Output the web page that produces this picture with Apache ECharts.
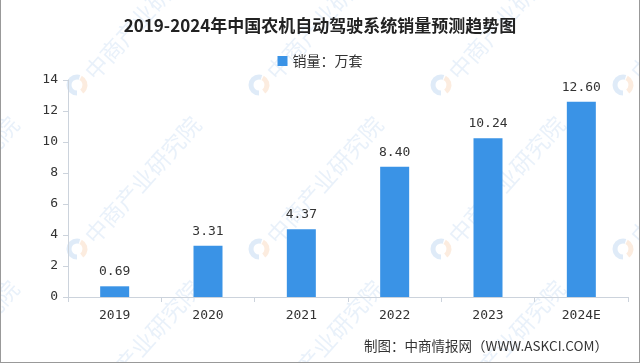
<!DOCTYPE html>
<html><head><meta charset="utf-8">
<script src="https://cdn.jsdelivr.net/npm/echarts@6/dist/echarts.min.js"></script>
<style>html,body{margin:0;padding:0;background:#fff}#c{width:640px;height:363px;box-sizing:border-box;border-left:1px solid #999;border-bottom:1px solid #999;border-right:1px solid #999}</style>
</head><body><div id="c"></div>
<script>
const categories = ['2019','2020','2021','2022','2023','2024E'];
const sales = [0.69, 3.31, 4.37, 8.40, 10.24, 12.60];
const yTicks = [0, 2, 4, 6, 8, 10, 12, 14];
const seriesName = '销量：万套';
const titleText = '2019-2024年中国农机自动驾驶系统销量预测趋势图';
const sourceText = '制图：中商情报网（WWW.ASKCI.COM）';
const watermarkText = '中商产业研究院';

const marks = [];
for (let i = -1; i <= 3; i++) {
  for (let j = 0; j <= 2; j++) {
    const x = 88 + 182 * i, y = 76 + 164 * j;
    marks.push({type: 'text', x: x, y: y, rotation: 0.84, z: -10, silent: true,
      style: {text: watermarkText, fontSize: 23, fill: 'rgba(120,170,225,0.16)',
        fontFamily: 'Noto Sans CJK SC', textVerticalAlign: 'middle', textAlign: 'left'}});
    marks.push({type: 'arc', shape: {cx: x - 12, cy: y + 9, r: 8, startAngle: Math.PI * 0.5, endAngle: Math.PI * 1.6}, z: -10, silent: true,
      style: {fill: 'none', stroke: 'rgba(110,165,225,0.22)', lineWidth: 5}});
    marks.push({type: 'arc', shape: {cx: x - 12, cy: y + 9, r: 8, startAngle: Math.PI * 1.65, endAngle: Math.PI * 2.3}, z: -10, silent: true,
      style: {fill: 'none', stroke: 'rgba(240,170,110,0.22)', lineWidth: 5}});
  }
}
marks.push({type: 'text', right: 31, top: 339, style: {text: sourceText, fontSize: 13.5, fill: '#333', fontFamily: 'Noto Sans CJK SC'}});

const chart = echarts.init(document.getElementById('c'));
chart.setOption({
  animation: false,
  title: {text: titleText, left: 'center', top: 12,
    textStyle: {fontSize: 17, fontWeight: 'bold', color: '#222', fontFamily: 'Noto Sans CJK SC'}},
  legend: {data: [seriesName], top: 49, left: 'center', itemWidth: 10, itemHeight: 10, icon: 'rect',
    textStyle: {fontSize: 14, color: '#333', fontFamily: 'Noto Sans CJK SC'}},
  graphic: marks,
  grid: {left: 67, right: 11, top: 80, bottom: 65},
  xAxis: {type: 'category', data: categories,
    axisLine: {lineStyle: {color: '#ccd3dc'}}, axisTick: {show: true, lineStyle: {color: '#ccd3dc'}},
    axisLabel: {color: '#333', fontSize: 13, margin: 12, fontFamily: 'DejaVu Sans Mono'}},
  yAxis: {type: 'value', min: yTicks[0], max: yTicks[yTicks.length-1], interval: 2,
    axisLine: {show: true, lineStyle: {color: '#ccd3dc'}}, axisTick: {show: true, lineStyle: {color: '#ccd3dc'}},
    splitLine: {show: false},
    axisLabel: {color: '#333', fontSize: 13, margin: 10, fontFamily: 'DejaVu Sans Mono'}},
  series: [{name: seriesName, type: 'bar', data: sales, barWidth: 29, z: 5,
    itemStyle: {color: '#3a93e6'},
    label: {show: true, position: 'top', distance: 8, color: '#333', fontSize: 13, fontFamily: 'DejaVu Sans Mono',
      formatter: p => p.value.toFixed(2)}}]
});
</script></body></html>
